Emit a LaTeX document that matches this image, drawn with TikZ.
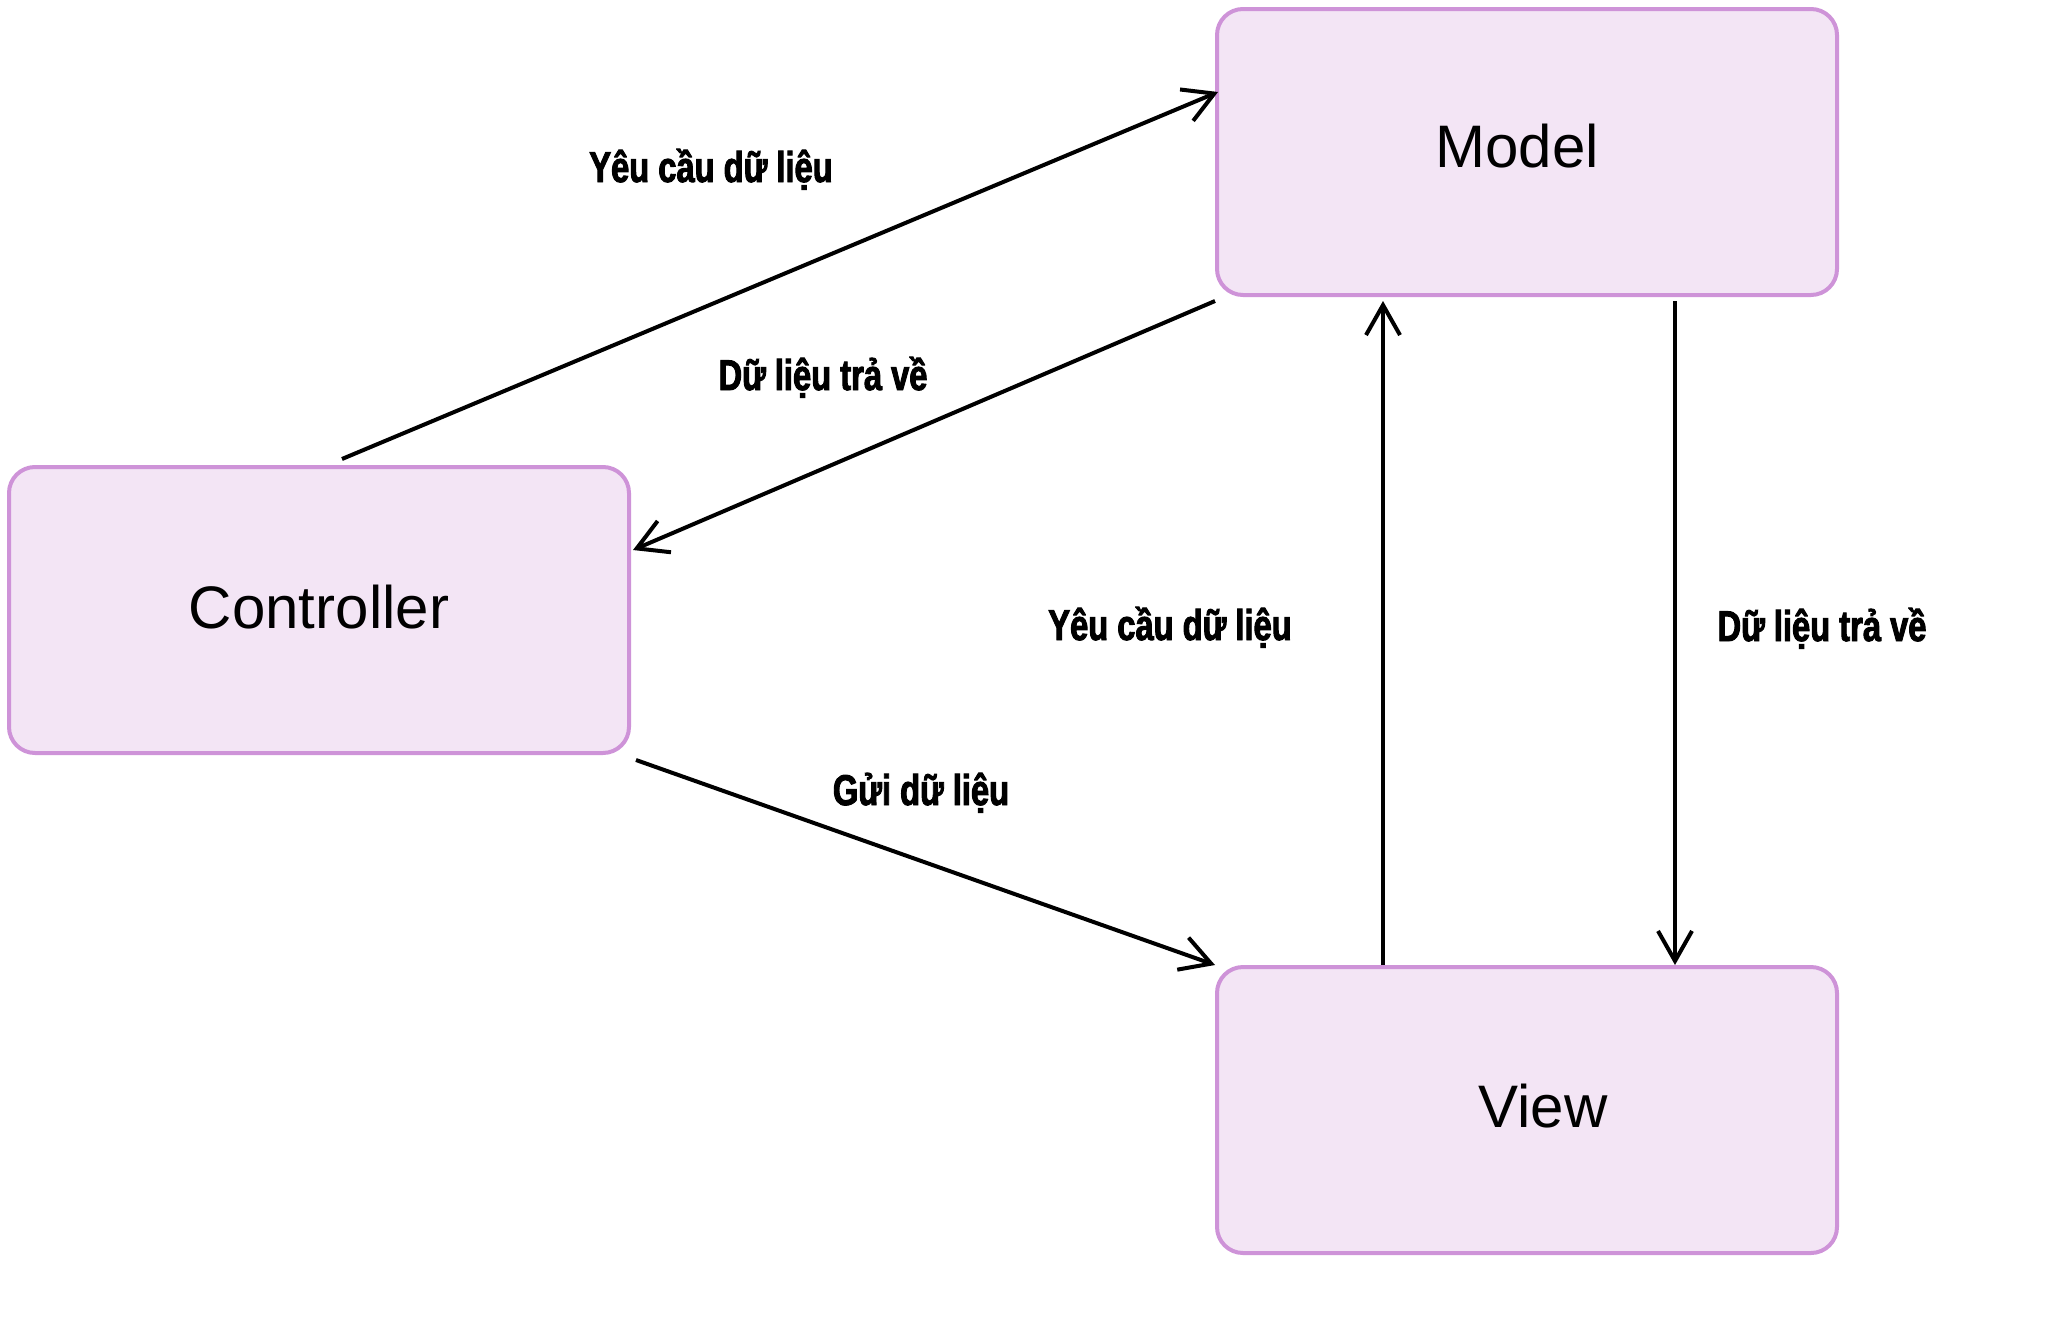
\documentclass[tikz,border=0pt]{standalone}
\usepackage{fontspec}
\setmainfont{Liberation Sans}
\newfontfamily\lblfont[FakeStretch=0.76,FakeBold=2.2]{Liberation Sans}
\usetikzlibrary{arrows.meta}
\definecolor{boxfill}{HTML}{F3E5F5}
\definecolor{boxborder}{HTML}{CE93D8}
\begin{document}
\begin{tikzpicture}[x=0.5pt,y=-0.5pt,
  box/.style={draw=boxborder, fill=boxfill, line width=2pt, rounded corners=13pt,
              minimum width=310pt, minimum height=143pt, inner sep=0pt},
  boxtext/.style={font=\fontsize{30}{36}\selectfont, anchor=base, inner sep=0pt},
  conn/.style={line width=2pt, -{Straight Barb[length=15pt,width=17pt]}},
  lbl/.style={font=\lblfont\bfseries\fontsize{21.5}{25}\selectfont, anchor=base, inner sep=0pt}]
\useasboundingbox (0,0) rectangle (2050,1317);
\node[box] (model) at (1527,152) {};
\node[box] (ctrl) at (319,610) {};
\node[box] (view) at (1527,1110) {};
\node[boxtext] (modeltxt) at (1517,167) {Model};
\node[boxtext] (ctrltxt) at (319,628) {Controller};
\node[boxtext] (viewtxt) at (1543,1127) {View};
% connectors
\draw[conn] ([xshift=11.5pt,yshift=3pt]ctrl.north) -- ([xshift=1.5pt,yshift=30pt]model.west);
\draw[conn] ([yshift=-2pt]model.south west) -- ([xshift=1pt,yshift=30pt]ctrl.east);
\draw[conn] ([xshift=2.5pt,yshift=-2.5pt]ctrl.south east) -- (view.north west);
\draw[conn] ([xshift=-72pt]view.north) -- ([xshift=-72pt,yshift=-2pt]model.south);
\draw[conn] ([xshift=74pt,yshift=-2pt]model.south) -- ([xshift=74pt]view.north);
% labels
\node[lbl] (l1) at (711,182) {Yêu cầu dữ liệu};
\node[lbl] (l2) at (823,390) {Dữ liệu trả về};
\node[lbl] (l3) at (1170,640) {Yêu cầu dữ liệu};
\node[lbl] (l4) at (1822,641) {Dữ liệu trả về};
\node[lbl] (l5) at (921,805) {Gửi dữ liệu};
\end{tikzpicture}
\end{document}
